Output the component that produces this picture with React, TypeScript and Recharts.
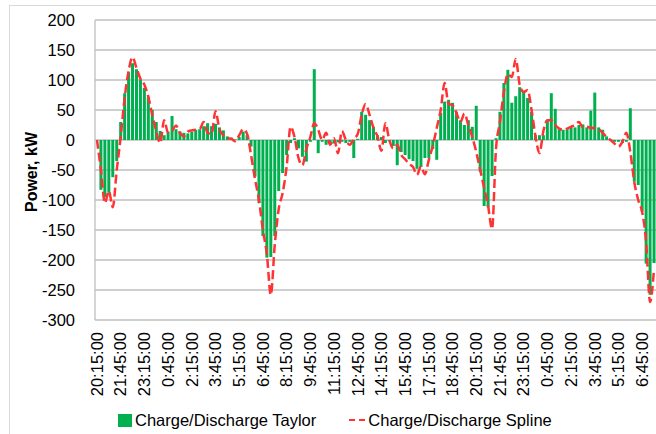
import React from 'react';
import { ComposedChart, Bar, Line, XAxis, YAxis, CartesianGrid, Legend } from 'recharts';

// 15-minute steps starting at 20:15:00
const startMinutes = 20 * 60 + 15;
const stepMinutes = 15;
const pointCount = 142;
const times: string[] = Array.from({ length: pointCount }, (_, i) => {
  const m = (startMinutes + i * stepMinutes) % (24 * 60);
  const h = Math.floor(m / 60);
  const mm = m % 60;
  return `${h}:${mm < 10 ? '0' + mm : mm}:00`;
});

const taylor = [
  0, -83, -95, -88, -62, -35, 30, 78, 113, 128,
  118, 101, 87, 72, 50, 30, 15, 8, 14, 40,
  18, 14, 12, 11, 14, 17, 18, 23, 28, 23,
  27, 21, 16, 6, 4, 1, 5, 14, 8, -11,
  -61, -105, -160, -196, -195, -160, -85, -55, -25, -5,
  3, -14, -28, -36, -3, 118, -22, -3, -8, -6,
  -6, -4, -3, -5, -3, -30, 2, 47, 42, 33,
  22, 8, 5, -5, -2, -10, -42, -20, -25, -32,
  -35, -48, -45, -30, -30, -15, -33, 45, 64, 67,
  62, 47, 33, 25, 33, 22, 57, -53, -110, -112,
  -60, 3, 47, 95, 117, 62, 73, 88, 82, 70,
  47, 8, 8, 8, 33, 78, 52, 18, 17, 18,
  21, 21, 25, 26, 21, 49, 79, 21, 17, 6,
  1, -3, -3, -5, -3, 53, -69, -75, -119, -206,
  -258, -205,
];

const spline = [
  0, -50, -105, -85, -112, -50, 5, 70, 115, 138,
  120, 102, 92, 72, 42, 15, -5, 33, 12, 15,
  24, 12, 6, 14, 16, 17, 18, 30, 12, 10,
  48, 18, 8, 3, 2, -2, 8, 18, 10, -25,
  -65, -100, -150, -190, -258, -175, -115, -88, -45, 22,
  5, -30, -42, -15, 5, 28, 17, 0, 12, -8,
  3, -22, 15, 0, -8, 2, 10, 42, 60, 42,
  20, 6, -18, 28, 0, -14, -8, -25, -32, -40,
  -45, -58, -44, -57, -33, -10, 20, 50, 95, 60,
  58, 45, 30, 44, 25, 5, -20, -50, -80, -110,
  -148, -15, 30, 80, 110, 105, 135, 92, 80, 83,
  50, 6, -22, 15, 33, 33, 25, 19, 17, 19,
  22, 25, 30, 21, 22, 20, 20, 18, 12, 5,
  0, -6, -11, -3, 12, -20, -70, -100, -120, -170,
  -270, -215,
];

const yTicks = [-300, -250, -200, -150, -100, -50, 0, 50, 100, 150, 200];

const seriesNames = ['Charge/Discharge Taylor', 'Charge/Discharge Spline'];

const data = times.map((t, i) => ({ time: t, taylor: taylor[i], spline: spline[i] }));

const FONT = '"Liberation Sans", Arial, sans-serif';
const FS = 16.5;
const GREEN = '#00B050';
const RED = '#FF3333';
const GRID = '#BFBFBF';

const XTick = (props: any) => {
  const { x, y, payload } = props;
  return (
    <text
      transform={`translate(${x},${y + 4}) rotate(-90)`}
      textAnchor="end"
      dy="0.35em"
      fontSize={FS}
      fill="#000"
    >
      {payload.value}
    </text>
  );
};

const YLabel = (props: any) => {
  const vb = props.viewBox || { x: 0, y: 0, width: 0, height: 0 };
  const cx = vb.x + 31;
  const cy = vb.y + vb.height / 2 + 2;
  return (
    <text
      transform={`translate(${cx},${cy}) rotate(-90)`}
      textAnchor="middle"
      dy="0.35em"
      fontSize={16}
      fontWeight="bold"
      fill="#000"
    >
      Power, kW
    </text>
  );
};

const LegendContent = () => (
  <div
    style={{
      display: 'flex',
      alignItems: 'center',
      height: 22,
      paddingLeft: 118,
      fontSize: FS,
      fontFamily: FONT,
      color: '#000',
      whiteSpace: 'nowrap',
    }}
  >
    <span style={{ display: 'inline-block', width: 14, height: 13, background: GREEN, marginRight: 3 }} />
    <span>{seriesNames[0]}</span>
    <svg width={18} height={10} style={{ marginLeft: 33, marginRight: 1 }}>
      <line x1={0} y1={5} x2={18} y2={5} stroke={RED} strokeWidth={2} strokeDasharray="6 4" />
    </svg>
    <span>{seriesNames[1]}</span>
  </div>
);

export default function App() {
  return (
    <div
      style={{
        position: 'absolute',
        left: 0,
        top: 0,
        width: 656,
        height: 434,
        overflow: 'hidden',
        background: '#fff',
        fontFamily: FONT,
      }}
    >
      <div
        style={{
          position: 'absolute',
          left: 9,
          top: 5,
          width: 700,
          height: 500,
          border: '1px solid #D9D9D9',
        }}
      />
      <div style={{ position: 'absolute', left: 0, top: 0 }}>
        <ComposedChart
          width={656}
          height={434}
          data={data}
          margin={{ top: 20, right: 0, bottom: 3, left: 0 }}
          barCategoryGap="12%"
        >
          <CartesianGrid vertical={false} stroke={GRID} strokeWidth={1.3} />
          <XAxis
            dataKey="time"
            interval={5}
            tick={<XTick />}
            axisLine={false}
            tickLine={false}
            height={89}
          />
          <YAxis
            domain={[-300, 200]}
            ticks={yTicks}
            axisLine={{ stroke: GRID, strokeWidth: 1.3 }}
            tickLine={false}
            tickMargin={14}
            width={95}
            tick={{ fill: '#000', fontSize: FS }}
            label={<YLabel />}
          />
          <Legend verticalAlign="bottom" content={<LegendContent />} wrapperStyle={{ left: 0, width: 656 }} />
          <Bar dataKey="taylor" name={seriesNames[0]} fill={GREEN} isAnimationActive={false} />
          <Line
            dataKey="spline"
            name={seriesNames[1]}
            type="monotone"
            stroke={RED}
            strokeWidth={2.5}
            strokeDasharray="9 4"
            dot={false}
            activeDot={false}
            isAnimationActive={false}
          />
        </ComposedChart>
      </div>
    </div>
  );
}
